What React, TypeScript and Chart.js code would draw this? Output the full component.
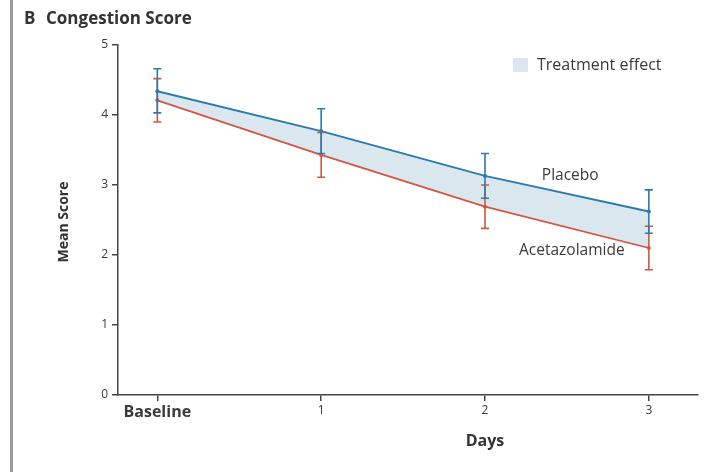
import React, { useEffect, useRef } from "react";
import { Chart, registerables } from "chart.js";
Chart.register(...registerables);

const categories = ["Baseline", "1", "2", "3"];
const dayPositions = [0, 1, 2, 3];
const placeboMean = [4.34, 3.77, 3.13, 2.62];
const placeboLow = [4.03, 3.45, 2.81, 2.31];
const placeboHigh = [4.66, 4.09, 3.45, 2.93];
const acetaMean = [4.21, 3.43, 2.69, 2.1];
const acetaLow = [3.9, 3.11, 2.38, 1.79];
const acetaHigh = [4.52, 3.75, 3.0, 2.41];
const yTicks = [0, 1, 2, 3, 4, 5];

const BLUE = "#2b7bb0";
const RED = "#d2573f";
const FILL = "#dbe7ef";
const AXIS = "#444";
const TEXT = "#3a3a3a";
const FONT = "'Open Sans', 'DejaVu Sans', sans-serif";

const errorBars = {
  id: "errorBars",
  afterDatasetsDraw(chart: any) {
    const { ctx, scales } = chart;
    const xs = scales.x;
    const ys = scales.y;
    const sets = [
      { low: acetaLow, high: acetaHigh, color: RED },
      { low: placeboLow, high: placeboHigh, color: BLUE },
    ];
    ctx.save();
    ctx.lineWidth = 1.6;
    for (const s of sets) {
      ctx.strokeStyle = s.color;
      dayPositions.forEach((d, i) => {
        const x = xs.getPixelForValue(d);
        const y1 = ys.getPixelForValue(s.low[i]);
        const y2 = ys.getPixelForValue(s.high[i]);
        ctx.beginPath();
        ctx.moveTo(x, y1);
        ctx.lineTo(x, y2);
        ctx.moveTo(x - 4, y1);
        ctx.lineTo(x + 4, y1);
        ctx.moveTo(x - 4, y2);
        ctx.lineTo(x + 4, y2);
        ctx.stroke();
      });
    }
    ctx.restore();
  },
};

const annotations = {
  id: "annotations",
  afterDraw(chart: any) {
    const { ctx, scales } = chart;
    const xs = scales.x;
    const ys = scales.y;
    ctx.save();
    // left border rule
    ctx.fillStyle = "#9a9a9a";
    ctx.fillRect(10, 0, 3, chart.height);
    // title
    ctx.fillStyle = "#333";
    ctx.textBaseline = "alphabetic";
    ctx.textAlign = "left";
    ctx.font = `bold 17px ${FONT}`;
    ctx.fillText("B", 24, 24);
    ctx.fillText("Congestion Score", 46, 24);
    // y title
    ctx.save();
    ctx.translate(64, 222);
    ctx.rotate(-Math.PI / 2);
    ctx.textAlign = "center";
    ctx.textBaseline = "middle";
    ctx.font = `bold 14px ${FONT}`;
    ctx.fillText("Mean Score", 0, 0);
    ctx.restore();
    // x title
    ctx.textAlign = "center";
    ctx.textBaseline = "middle";
    ctx.font = `bold 16px ${FONT}`;
    ctx.fillText("Days", xs.getPixelForValue(2), 441);
    // series labels
    ctx.fillStyle = TEXT;
    ctx.font = `15.5px ${FONT}`;
    ctx.fillText("Placebo", xs.getPixelForValue(2.52), ys.getPixelForValue(3.13));
    ctx.fillText("Acetazolamide", xs.getPixelForValue(2.53), ys.getPixelForValue(2.06));
    // legend
    ctx.fillStyle = FILL;
    ctx.fillRect(513, 58, 15, 14);
    ctx.fillStyle = TEXT;
    ctx.textAlign = "left";
    ctx.font = `16px ${FONT}`;
    ctx.fillText("Treatment effect", 537, 65);
    ctx.restore();
  },
};

export default function App() {
  const ref = useRef<HTMLCanvasElement>(null);
  useEffect(() => {
    const chart = new Chart(ref.current!, {
      type: "line",
      data: {
        datasets: [
          {
            label: "Placebo",
            data: dayPositions.map((x, i) => ({ x, y: placeboMean[i] })),
            borderColor: BLUE,
            backgroundColor: FILL,
            borderWidth: 2,
            pointRadius: 2,
            pointBackgroundColor: BLUE,
            pointBorderWidth: 0,
            fill: { target: 1, above: FILL, below: FILL },
            tension: 0,
          },
          {
            label: "Acetazolamide",
            data: dayPositions.map((x, i) => ({ x, y: acetaMean[i] })),
            borderColor: RED,
            backgroundColor: RED,
            borderWidth: 1.8,
            pointRadius: 2,
            pointBackgroundColor: RED,
            pointBorderWidth: 0,
            fill: false,
            tension: 0,
          },
        ],
      },
      options: {
        animation: false,
        responsive: false,
        layout: { padding: { left: 0, right: 20, top: 45, bottom: 0 } },
        plugins: {
          legend: { display: false },
          tooltip: { enabled: false },
          filler: { drawTime: "beforeDatasetsDraw" },
        },
        scales: {
          x: {
            type: "linear",
            min: -0.24,
            max: 3.3,
            afterBuildTicks: (s: any) => {
              s.ticks = dayPositions.map((v) => ({ value: v }));
            },
            afterFit: (s: any) => {
              s.height = 77;
            },
            ticks: {
              callback: (v: any) => categories[dayPositions.indexOf(v)],
              color: TEXT,
              padding: 2,
              autoSkip: false,
              maxRotation: 0,
              font: (c: any) =>
                c.index === 0
                  ? { family: FONT, size: 16, weight: "bold" }
                  : { family: FONT, size: 12 },
            },
            grid: { drawOnChartArea: false, drawTicks: true, tickLength: 6, color: AXIS, lineWidth: 1.5 },
            border: { color: AXIS, width: 1.5 },
          },
          y: {
            min: 0,
            max: 5,
            afterBuildTicks: (s: any) => {
              s.ticks = yTicks.map((v) => ({ value: v }));
            },
            afterFit: (s: any) => {
              s.width = 118;
            },
            ticks: { color: TEXT, padding: 4, font: { family: FONT, size: 12 } },
            grid: { drawOnChartArea: false, drawTicks: true, tickLength: 6, color: AXIS, lineWidth: 1.5 },
            border: { color: AXIS, width: 1.5 },
          },
        },
      },
      plugins: [errorBars, annotations],
    } as any);
    return () => chart.destroy();
  }, []);
  return (
    <div style={{ position: "absolute", left: 0, top: 0, width: 718, height: 472, background: "#fff" }}>
      <canvas ref={ref} width={718} height={472} />
    </div>
  );
}
